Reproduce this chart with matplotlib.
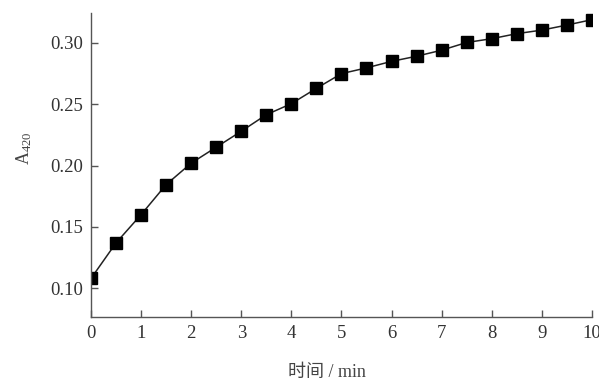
import matplotlib
matplotlib.use("Agg")
import matplotlib.pyplot as plt

# time (min) and absorbance at 420 nm
time_min = [0, 0.5, 1, 1.5, 2, 2.5, 3, 3.5, 4, 4.5, 5, 5.5, 6, 6.5, 7, 7.5, 8, 8.5, 9, 9.5, 10]
a420 = [0.108, 0.137, 0.160, 0.1845, 0.202, 0.215, 0.228, 0.2415, 0.2505, 0.263, 0.275,
        0.2797, 0.285, 0.2892, 0.2941, 0.3004, 0.3035, 0.3076, 0.3105, 0.3146, 0.319]

x_ticks = [0, 1, 2, 3, 4, 5, 6, 7, 8, 9, 10]
y_ticks = [0.10, 0.15, 0.20, 0.25, 0.30]

plt.rcParams["font.family"] = ["Liberation Serif", "Noto Sans CJK SC", "DejaVu Sans"]
plt.rcParams["mathtext.fontset"] = "custom"
plt.rcParams["mathtext.rm"] = "Liberation Serif"
plt.rcParams["mathtext.it"] = "Liberation Serif"

fig = plt.figure(figsize=(5.99, 3.81), dpi=100)
ax = fig.add_axes([0.152, 0.168, 0.836, 0.798])

ax.plot(time_min, a420, color="#222222", linewidth=1.1, marker="s",
        markersize=8.5, markerfacecolor="black", markeredgecolor="black")

ax.set_xlim(0, 10)
ax.set_ylim(0.0765, 0.3245)
ax.set_xticks(x_ticks)
ax.set_yticks(y_ticks)
ax.set_xticklabels([str(t) for t in x_ticks])
ax.set_yticklabels([f"{t:.2f}" for t in y_ticks])

for side in ("top", "right"):
    ax.spines[side].set_visible(False)
for side in ("left", "bottom"):
    ax.spines[side].set_color("#555555")
    ax.spines[side].set_linewidth(1.0)

ax.tick_params(direction="in", length=5, width=1, color="#555555",
               labelsize=13.5, labelcolor="#333333", pad=6)

ax.set_xlabel("时间 / min", fontsize=13, color="#444444")
ax.set_ylabel("A$_{420}$", fontsize=13, color="#444444")
ax.xaxis.set_label_coords(0.471, -0.155)
ax.yaxis.set_label_coords(-0.113, 0.556)

fig.savefig("out.png", dpi=100)
